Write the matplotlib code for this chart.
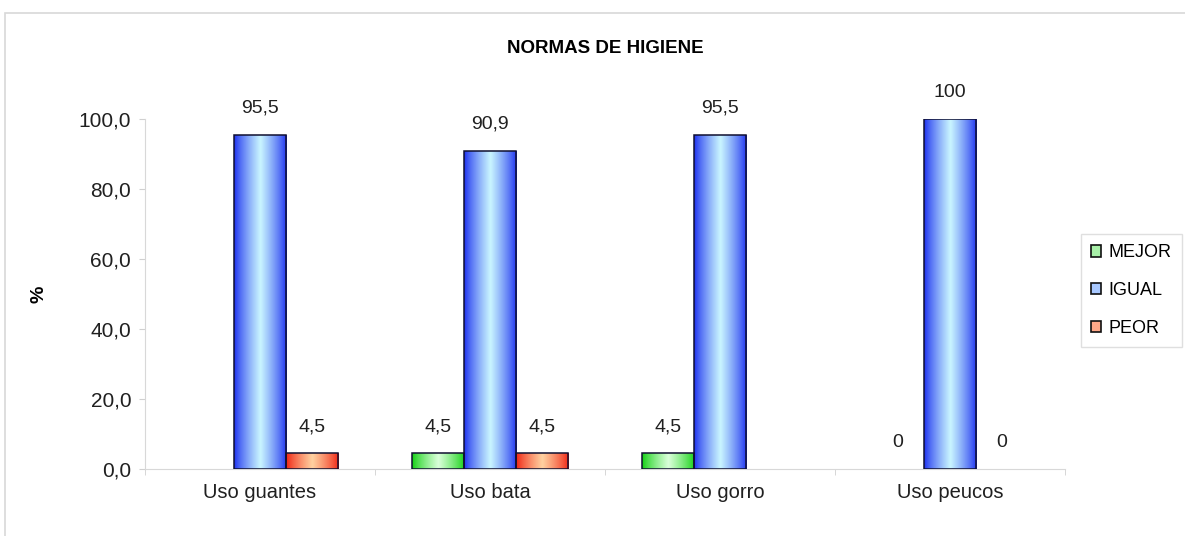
import matplotlib.pyplot as plt
import numpy as np
from matplotlib.colors import LinearSegmentedColormap
from matplotlib.patches import Rectangle, Patch

CATEGORIES = ['Uso guantes', 'Uso bata', 'Uso gorro', 'Uso peucos']
SERIES = ['MEJOR', 'IGUAL', 'PEOR']
MEJOR = [np.nan, 4.5, 4.5, 0]
IGUAL = [95.5, 90.9, 95.5, 100]
PEOR = [4.5, 4.5, np.nan, 0]
YTICKS = [0, 20, 40, 60, 80, 100]

# edge colour, centre colour, legend colour
STYLE = {
    'MEJOR': ('#10d010', '#d8ffd8', '#a8f0a8'),
    'IGUAL': ('#1a2ef0', '#c8f4ff', '#a8c8ff'),
    'PEOR': ('#f02010', '#ffd0a0', '#ffa888'),
}
TXT = '#202020'


def fmt(v):
    if float(v).is_integer():
        return f'{int(v)}'
    return f'{v:.1f}'.replace('.', ',')


def main():
    fig = plt.figure(figsize=(11.85, 5.36), dpi=100)
    plt.rcParams['font.family'] = ['Liberation Sans', 'DejaVu Sans']
    fig.patches.append(Rectangle((0.004, -0.01), 1.2, 0.985,
                                 transform=fig.transFigure, fill=False,
                                 edgecolor='#d8d8d8', linewidth=1.2))
    ax = fig.add_axes([0.1224, 0.125, 0.7763, 0.653])

    width = 0.227
    x = np.arange(len(CATEGORIES))
    grad = np.concatenate([np.linspace(0, 1, 50), np.linspace(1, 0, 50)])
    grad = np.power(grad, 0.8).reshape(1, -1)

    for i, (name, vals) in enumerate(zip(SERIES, [MEJOR, IGUAL, PEOR])):
        edge, centre, _ = STYLE[name]
        cmap = LinearSegmentedColormap.from_list(name, [edge, centre])
        for xi, v in zip(x, vals):
            if np.isnan(v):
                continue
            left = xi + (i - 1.5) * width
            if v > 0:
                rect = Rectangle((left, 0), width, v, facecolor='none',
                                 edgecolor='#101030', linewidth=1.1, zorder=4)
                ax.add_patch(rect)
                im = ax.imshow(grad, cmap=cmap, aspect='auto',
                               extent=[left, left + width, 0, v], zorder=3)
                im.set_clip_path(rect)
            ax.annotate(fmt(v), (left + width / 2, v), xytext=(0, 19),
                        textcoords='offset points', ha='center',
                        va='center', fontsize=14, color=TXT)

    ax.set_xlim(-0.5, len(CATEGORIES) - 0.5)
    ax.set_ylim(0, 100)
    ax.set_yticks(YTICKS)
    ax.set_yticklabels([f'{t:.1f}'.replace('.', ',') for t in YTICKS],
                       fontsize=15, color=TXT)
    ax.set_xticks(x)
    ax.set_xticklabels(CATEGORIES, fontsize=14.5, color=TXT)
    ax.set_xticks(np.arange(-0.5, len(CATEGORIES)), minor=True)
    ax.tick_params(axis='x', which='major', length=0, pad=10)
    ax.tick_params(axis='x', which='minor', length=4, color='#d0d0d0')
    ax.tick_params(axis='y', length=4, color='#d0d0d0', pad=6)
    for side in ['top', 'right']:
        ax.spines[side].set_visible(False)
    for side in ['left', 'bottom']:
        ax.spines[side].set_color('#d8d8d8')
    ax.set_ylabel('%', fontsize=14, fontweight='bold')
    ax.yaxis.set_label_coords(-0.106, 0.5)

    fig.text(0.511, 0.91, 'NORMAS DE HIGIENE', ha='center', va='center',
             fontsize=13.5, fontweight='bold')

    handles = [Patch(facecolor=STYLE[s][2], edgecolor='#101010',
                     linewidth=1.2) for s in SERIES]
    fig.legend(handles, SERIES, loc='center left',
               bbox_to_anchor=(0.912, 0.458), frameon=True, fontsize=13,
               handlelength=0.6, handleheight=0.6, handletextpad=0.4,
               labelspacing=1.15, borderpad=0.55, fancybox=False,
               edgecolor='#d8d8d8', borderaxespad=0)

    fig.savefig('out.png', dpi=100)


if __name__ == '__main__':
    main()
